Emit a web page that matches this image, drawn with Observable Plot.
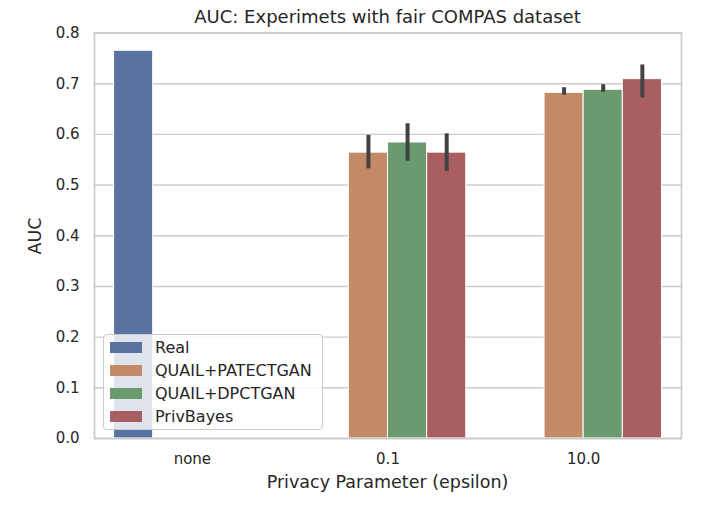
<!DOCTYPE html>
<html>
<head>
<meta charset="utf-8">
<script src="https://cdn.jsdelivr.net/npm/d3@7"></script>
<script src="https://cdn.jsdelivr.net/npm/@observablehq/plot@0.6"></script>
<style>
  html, body { margin: 0; padding: 0; background: #fff; }
  #wrap { position: relative; width: 706px; height: 506px; font-family: "DejaVu Sans", sans-serif; color: #262626; }
  #title { position: absolute; left: 94px; width: 587px; top: 3px; height: 28px; line-height: 28px; text-align: center; font-size: 18px; }
  #xlabel { position: absolute; left: 94px; width: 587px; top: 469px; height: 26px; line-height: 26px; text-align: center; font-size: 17.5px; }
  #ylabel { position: absolute; left: 34.5px; top: 236px; font-size: 17.5px; line-height: 20px; white-space: nowrap;
    transform: translate(-50%, -50%) rotate(-90deg); }
  #legend { position: absolute; left: 103px; top: 334px; width: 220px; height: 96px; box-sizing: border-box;
    background: rgba(255,255,255,0.8); border: 1px solid #cccccc; border-radius: 4px; }
  .row { position: absolute; left: 6px; height: 23px; display: flex; align-items: center; font-size: 16px; white-space: nowrap; }
  .sw { width: 32px; height: 11px; margin-right: 13px; }
</style>
</head>
<body>
<div id="wrap">
  <div id="chart"></div>
  <div id="title">AUC: Experimets with fair COMPAS dataset</div>
  <div id="xlabel">Privacy Parameter (epsilon)</div>
  <div id="ylabel">AUC</div>
  <div id="legend"></div>
</div>
<script>
// categories
const epsilons = ["none", "0.1", "10.0"];
const models = ["Real", "QUAIL+PATECTGAN", "QUAIL+DPCTGAN", "PrivBayes"];
const palette = ["#5a72a2", "#c28a66", "#6a9b6f", "#a95e61"];
const yTicks = [0, 0.1, 0.2, 0.3, 0.4, 0.5, 0.6, 0.7, 0.8];

// mean AUC per model, per epsilon (none, 0.1, 10.0)
const realAUC       = [0.765, null,  null ];
const patectganAUC  = [null,  0.564, 0.682];
const dpctganAUC    = [null,  0.584, 0.688];
const privbayesAUC  = [null,  0.564, 0.709];

// confidence interval (low / high)
const patectganLow  = [null,  0.532, 0.677];
const patectganHigh = [null,  0.598, 0.692];
const dpctganLow    = [null,  0.547, 0.683];
const dpctganHigh   = [null,  0.621, 0.698];
const privbayesLow  = [null,  0.527, 0.672];
const privbayesHigh = [null,  0.601, 0.737];

const means = [realAUC, patectganAUC, dpctganAUC, privbayesAUC];
const lows  = [null, patectganLow, dpctganLow, privbayesLow];
const highs = [null, patectganHigh, dpctganHigh, privbayesHigh];

// seaborn-style dodge: 4 hue slots, width 0.8 per category
const slot = 0.8 / models.length;
const bars = [];
const errs = [];
epsilons.forEach((e, i) => {
  models.forEach((m, j) => {
    const v = means[j][i];
    if (v == null) return;
    const c = i - 0.4 + slot * (j + 0.5);
    bars.push({model: m, auc: v, x1: c - slot / 2, x2: c + slot / 2});
    if (lows[j]) errs.push({x: c, lo: lows[j][i], hi: highs[j][i]});
  });
});

const chart = Plot.plot({
  width: 706,
  height: 506,
  marginTop: 32.5,
  marginBottom: 68,
  marginLeft: 94,
  marginRight: 25,
  style: {fontFamily: "DejaVu Sans, sans-serif", fontSize: "15px", color: "#262626", background: "#fff"},
  x: {domain: [-0.5, 2.5]},
  y: {domain: [0, 0.8]},
  color: {domain: models, range: palette},
  marks: [
    Plot.gridY({ticks: yTicks, stroke: "#cccccc", strokeOpacity: 1, strokeWidth: 1.4}),
    Plot.rect(bars, {x1: "x1", x2: "x2", y1: 0, y2: "auc", fill: "model", stroke: "white", strokeWidth: 1}),
    Plot.ruleX(errs, {x: "x", y1: "lo", y2: "hi", stroke: "#424242", strokeWidth: 4}),
    Plot.frame({stroke: "#cccccc", strokeWidth: 1.75}),
    Plot.axisY({ticks: yTicks, tickSize: 0, tickPadding: 15, tickFormat: ".1f", fontSize: 15, label: null}),
    Plot.axisX({ticks: [0, 1, 2], tickFormat: i => epsilons[i], tickSize: 0, tickPadding: 15, fontSize: 15, label: null})
  ]
});
document.getElementById("chart").appendChild(chart);

const legend = document.getElementById("legend");
models.forEach((m, j) => {
  const row = document.createElement("div");
  row.className = "row";
  row.style.top = (0.5 + j * 23.3) + "px";
  const sw = document.createElement("div");
  sw.className = "sw";
  sw.style.background = palette[j];
  const t = document.createElement("span");
  t.textContent = m;
  row.appendChild(sw);
  row.appendChild(t);
  legend.appendChild(row);
});
</script>
</body>
</html>
